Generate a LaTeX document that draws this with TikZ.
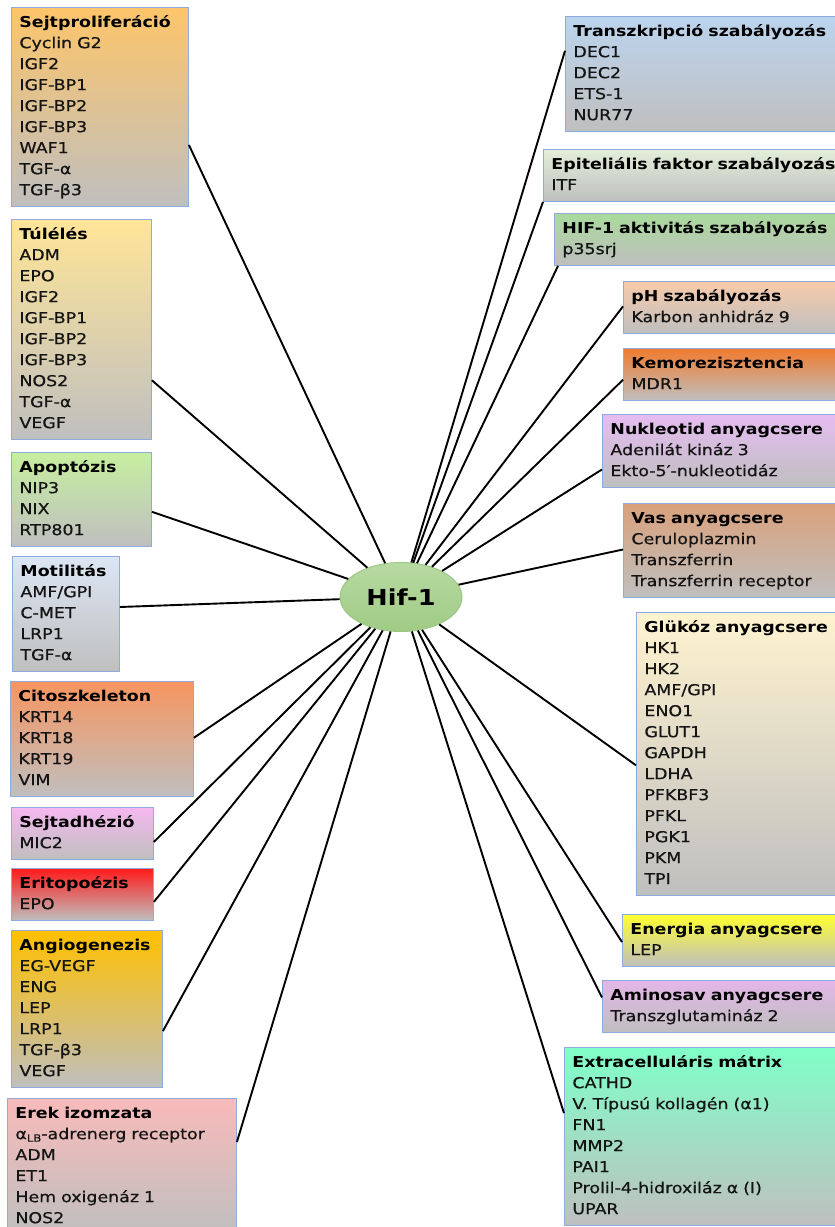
\documentclass[tikz,border=0pt]{standalone}
\usepackage{fontspec}
\setmainfont{DejaVu Sans}[FakeStretch=1.16, UprightFeatures={FakeBold=0.6}]
\usetikzlibrary{calc,shapes.geometric}
\definecolor{bborder}{HTML}{8FAADC}
\definecolor{gbot}{HTML}{BFBFBF}
\definecolor{txt}{HTML}{141414}
\definecolor{cA}{HTML}{FDC56A}
\definecolor{cB}{HTML}{FFE597}
\definecolor{cC}{HTML}{C6EFA0}
\definecolor{cD}{HTML}{DCE6F4}
\definecolor{cE}{HTML}{F8955F}
\definecolor{cF}{HTML}{F6B8F0}
\definecolor{cG}{HTML}{FF1A1A}
\definecolor{cH}{HTML}{FFC000}
\definecolor{cI}{HTML}{F9BABA}
\definecolor{cJ}{HTML}{BBD4EE}
\definecolor{cK}{HTML}{E3EFD9}
\definecolor{cL}{HTML}{A9DA9C}
\definecolor{cM}{HTML}{F8CBAA}
\definecolor{cN}{HTML}{F07B2E}
\definecolor{cO}{HTML}{E6BCF2}
\definecolor{cP}{HTML}{D9A17B}
\definecolor{cQ}{HTML}{FFF3CF}
\definecolor{cR}{HTML}{FFFF30}
\definecolor{cS}{HTML}{E4B6E8}
\definecolor{cT}{HTML}{80FFC8}
\definecolor{hiftop}{HTML}{B7DAA2}
\definecolor{hifbot}{HTML}{A0CA85}
\definecolor{hifline}{HTML}{9DC885}
\tikzset{
  gbox/.style={rectangle, draw=bborder, line width=0.9pt, anchor=north west,
    align=left, inner xsep=8pt, inner ysep=5pt, text=txt,
    font=\fontsize{15}{21}\selectfont, bottom color=gbot,
    execute at begin node={\hyphenpenalty=10000\exhyphenpenalty=10000\strut},
    execute at end node={\strut}},
  link/.style={line width=1.9pt, black},
  hifnode/.style={ellipse, draw=hifline, line width=1pt, top color=hiftop, bottom color=hifbot,
    minimum width=122pt, minimum height=69pt, inner sep=0pt,
    font=\fontsize{22}{24}\selectfont\bfseries},
}
\newcommand{\ttl}[1]{\textbf{\color{black}#1}}
\begin{document}
\begin{tikzpicture}[x=1pt,y=-1pt]
\path[use as bounding box] (0,0) rectangle (835,1227);
\clip (0,0) rectangle (835,1227);

% left column
\node[gbox, top color=cA, text width=161pt] (b1) at (11,7)
  {\ttl{Sejtproliferáció}\\Cyclin G2\\IGF2\\IGF-BP1\\IGF-BP2\\IGF-BP3\\WAF1\\TGF-α\\TGF-β3};
\node[gbox, top color=cB, text width=124pt] (b2) at (11,219)
  {\ttl{Túlélés}\\ADM\\EPO\\IGF2\\IGF-BP1\\IGF-BP2\\IGF-BP3\\NOS2\\TGF-α\\VEGF};
\node[gbox, top color=cC, text width=124pt] (b3) at (11,452)
  {\ttl{Apoptózis}\\NIP3\\NIX\\RTP801};
\node[gbox, top color=cD, text width=91pt] (b4) at (12,556)
  {\ttl{Motilitás}\\AMF/GPI\\C-MET\\LRP1\\TGF-α};
\node[gbox, top color=cE, text width=167pt] (b5) at (10,681)
  {\ttl{Citoszkeleton}\\KRT14\\KRT18\\KRT19\\VIM};
\node[gbox, top color=cF, text width=126pt] (b6) at (11,807)
  {\ttl{Sejtadhézió}\\MIC2};
\node[gbox, top color=cG, text width=126pt] (b7) at (11,868)
  {\ttl{Eritopoézis}\\EPO};
\node[gbox, top color=cH, text width=135pt] (b8) at (11,930)
  {\ttl{Angiogenezis}\\EG-VEGF\\ENG\\LEP\\LRP1\\TGF-β3\\VEGF};
\node[gbox, top color=cI, text width=213pt] (b9) at (7,1098)
  {\ttl{Erek izomzata}\\α\raisebox{-2.5pt}{\fontsize{10}{10}\selectfont LB}-adrenerg receptor\\ADM\\ET1\\Hem oxigenáz 1\\NOS2};

% right column
\node[gbox, top color=cJ, text width=289pt] (b10) at (565,16)
  {\ttl{Transzkripció szabályozás}\\DEC1\\DEC2\\ETS-1\\NUR77};
\node[gbox, top color=cK, text width=311pt] (b11) at (543,149)
  {\ttl{Epiteliális faktor szabályozás}\\ITF};
\node[gbox, top color=cL, text width=300pt] (b12) at (554,213)
  {\ttl{HIF-1 aktivitás szabályozás}\\p35srj};
\node[gbox, top color=cM, text width=231pt] (b13) at (623,281)
  {\ttl{pH szabályozás}\\Karbon anhidráz 9};
\node[gbox, top color=cN, text width=231pt] (b14) at (623,348)
  {\ttl{Kemorezisztencia}\\MDR1};
\node[gbox, top color=cO, text width=252pt] (b15) at (602,414)
  {\ttl{Nukleotid anyagcsere}\\Adenilát kináz 3\\Ekto-5′-nukleotidáz};
\node[gbox, top color=cP, text width=231pt] (b16) at (623,503)
  {\ttl{Vas anyagcsere}\\Ceruloplazmin\\Transzferrin\\Transzferrin receptor};
\node[gbox, top color=cQ, text width=218pt] (b17) at (636,612)
  {\ttl{Glükóz anyagcsere}\\HK1\\HK2\\AMF/GPI\\ENO1\\GLUT1\\GAPDH\\LDHA\\PFKBF3\\PFKL\\PGK1\\PKM\\TPI};
\node[gbox, top color=cR, text width=232pt] (b18) at (622,914)
  {\ttl{Energia anyagcsere}\\LEP};
\node[gbox, top color=cS, text width=252pt] (b19) at (602,980)
  {\ttl{Aminosav anyagcsere}\\Transzglutamináz 2};
\node[gbox, top color=cT, text width=290pt] (b20) at (564,1047)
  {\ttl{Extracelluláris mátrix}\\CATHD\\V. Típusú kollagén (α1)\\FN1\\MMP2\\PAI1\\Prolil-4-hidroxiláz α (I)\\UPAR};

% centre
\node[hifnode] (hif) at (401,597) {Hif-1};

% connectors, left
\draw[link] ($(b1.north east)!0.69!(b1.south east)$) -- (hif);
\draw[link] ($(b2.north east)!0.73!(b2.south east)$) -- (hif);
\draw[link] ($(b3.north east)!0.63!(b3.south east)$) -- (hif);
\draw[link] ($(b4.north east)!0.44!(b4.south east)$) -- (hif);
\draw[link] ($(b5.north east)!0.49!(b5.south east)$) -- (hif);
\draw[link] ($(b6.north east)!0.66!(b6.south east)$) -- (hif);
\draw[link] ($(b7.north east)!0.64!(b7.south east)$) -- (hif);
\draw[link] ($(b8.north east)!0.64!(b8.south east)$) -- (hif);
\draw[link] ([yshift=-44pt]b9.north east) -- (hif);
% connectors, right
\draw[link] ($(b10.north west)!0.30!(b10.south west)$) -- (hif);
\draw[link] (b11.south west) -- (hif);
\draw[link] ([xshift=4pt]b12.south west) -- (hif);
\draw[link] ($(b13.north west)!0.48!(b13.south west)$) -- (hif);
\draw[link] ($(b14.north west)!0.60!(b14.south west)$) -- (hif);
\draw[link] ($(b15.north west)!0.75!(b15.south west)$) -- (hif);
\draw[link] ($(b16.north west)!0.49!(b16.south west)$) -- (hif);
\draw[link] ($(b17.north west)!0.54!(b17.south west)$) -- (hif);
\draw[link] ($(b18.north west)!0.53!(b18.south west)$) -- (hif);
\draw[link] ($(b19.north west)!0.33!(b19.south west)$) -- (hif);
\draw[link] ($(b20.north west)!0.37!(b20.south west)$) -- (hif);
\end{tikzpicture}
\end{document}
